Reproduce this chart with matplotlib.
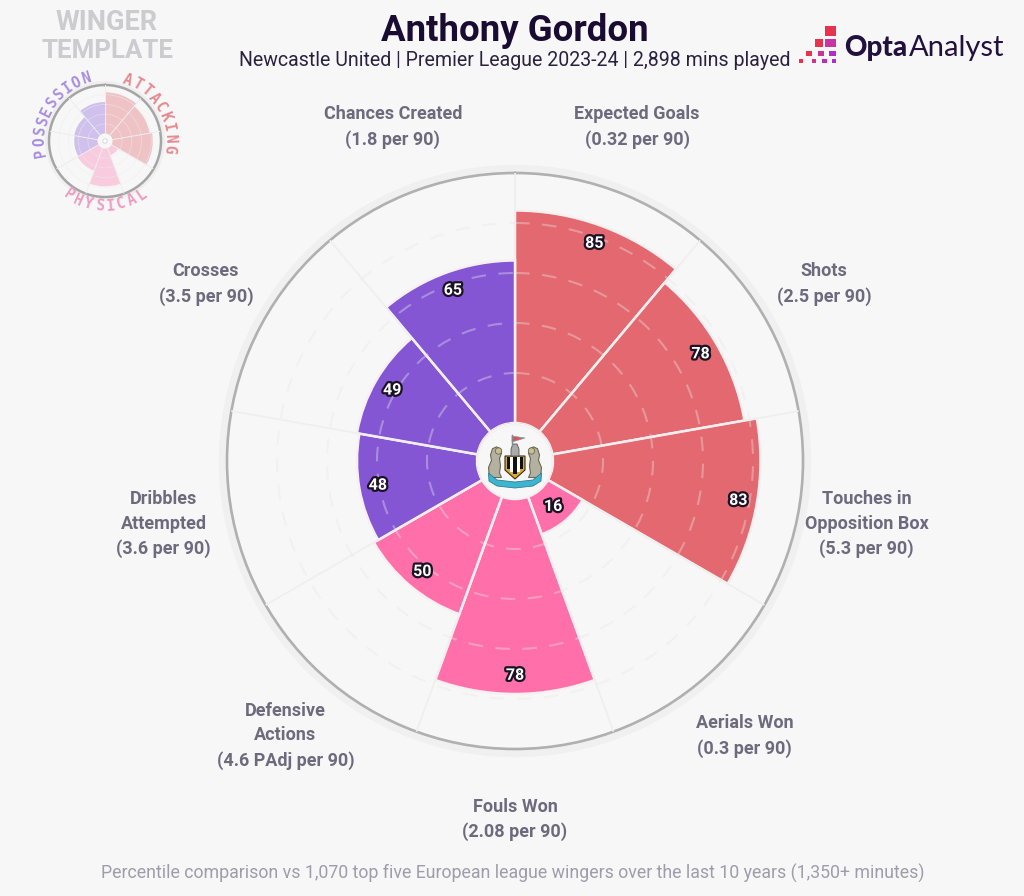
import numpy as np
import matplotlib
matplotlib.use("Agg")
import matplotlib.pyplot as plt
import matplotlib.patheffects as pe
from matplotlib.patches import Circle, Rectangle, Polygon

# data
metrics = ["Expected Goals\n(0.32 per 90)", "Shots\n(2.5 per 90)", "Touches in\nOpposition Box\n(5.3 per 90)",
           "Aerials Won\n(0.3 per 90)", "Fouls Won\n(2.08 per 90)", "Defensive\nActions\n(4.6 PAdj per 90)",
           "Dribbles\nAttempted\n(3.6 per 90)", "Crosses\n(3.5 per 90)", "Chances Created\n(1.8 per 90)"]
percentiles = [85, 78, 83, 16, 78, 50, 48, 49, 65]
groups = ["attacking", "attacking", "attacking", "physical", "physical", "physical",
          "possession", "possession", "possession"]
group_colors = {"attacking": "#E4686F", "physical": "#FF70AB", "possession": "#8456D4"}
mini_colors = {"attacking": "#EFC3C6", "physical": "#F9CBDF", "possession": "#CFC0EC"}
rings = [20, 40, 60, 80]

BG = "#F7F7F7"
FONT = "Roboto"
plt.rcParams["font.family"] = [FONT, "DejaVu Sans"]
W, H = 1024, 896
fig = plt.figure(figsize=(W / 100, H / 100), dpi=100, facecolor=BG)


def pixel_axes(z):
    a = fig.add_axes([0, 0, 1, 1], zorder=z)
    a.set_xlim(0, W)
    a.set_ylim(H, 0)
    a.axis("off")
    a.patch.set_alpha(0)
    return a


back = pixel_axes(0)
front = pixel_axes(5)


def polar_axes(cx, cy, r):
    a = fig.add_axes([(cx - r) / W, (H - cy - r) / H, 2 * r / W, 2 * r / H],
                     projection="polar", zorder=2)
    a.set_theta_zero_location("N")
    a.set_theta_direction(-1)
    a.set_ylim(0, 100)
    a.set_rorigin(-15.2)
    a.patch.set_alpha(0)
    a.set_xticks(np.deg2rad(np.arange(0, 360, 40)))
    a.set_yticks(rings)
    a.set_xticklabels([])
    a.set_yticklabels([])
    a.tick_params(length=0)
    a.spines["inner"].set_linewidth(0)
    a.spines["inner"].set_edgecolor("none")
    return a


theta = np.deg2rad(np.arange(len(percentiles)) * 40 + 20)
width = np.deg2rad(40)

# main chart
CX, CY, R = 515, 461, 288
back.add_patch(Circle((CX, CY), R + 4, fc="none", ec="#F0F0F0", lw=6))
ax = polar_axes(CX, CY, R)
ax.set_axisbelow(False)
ax.xaxis.grid(True, color="#EFEFEF", lw=1.3, zorder=1)
ax.yaxis.grid(True, color="#E8E8E8", lw=1.5, ls=(0, (7, 6)), alpha=0.38)
ax.bar(theta, percentiles, width=width, bottom=0,
       color=[group_colors[g] for g in groups], edgecolor="#F7F0F1", lw=1.8, zorder=2)
ax.spines["polar"].set_color("#B0B0B0")
ax.spines["polar"].set_linewidth(1.9)
for t, v in zip(theta, percentiles):
    ax.text(t, v - 7.5, str(v), ha="center", va="center", color="white", fontsize=11.5,
            fontweight="bold", zorder=6,
            path_effects=[pe.withStroke(linewidth=3.2, foreground="#1B1226")])
for t, m in zip(theta, metrics):
    ax.annotate(m, xy=(t, 127.6), xytext=(0, -1), textcoords="offset points", ha="center", va="center",
                color="#6E6A7E", fontsize=13, fontweight="bold", linespacing=1.46, annotation_clip=False)

# centre disc and crest
front.add_patch(Circle((CX, CY + 1), 37, fc=BG, ec="#F2F2F2", lw=1))
lion_l = np.array([[-10, 25], [-11, 14], [-8, 6], [-9, 0], [-7, -7], [-3, -9], [1, -7], [2, -2],
                   [0, 4], [1, 12], [0, 20], [2, 25]])
for sgn, xc in [(1, 499.5), (-1, 530.5)]:
    pts = np.c_[xc + sgn * lion_l[:, 0], 455 + lion_l[:, 1] * 0.9]
    front.add_patch(Polygon(pts, fc="#B5B1A0", ec="#6B6752", lw=0.8))
    front.add_patch(Circle((xc - sgn * 1, 451), 3.2, fc="#C9BE92", ec="#6B6752", lw=0.6))
front.add_patch(Polygon([[505, 456], [525, 456], [525, 470], [515, 479], [505, 470]],
                        fc="#D7A93A", ec="#3A2E12", lw=0.8))
for i in range(5):
    front.add_patch(Rectangle((507 + i * 3.2, 457.5), 3.2, 17 - abs(i - 2) * 2.5,
                              fc="#111111" if i % 2 == 0 else "#FFFFFF", ec="none"))
front.add_patch(Polygon([[511, 456], [511, 449], [513, 444], [517, 444], [519, 449], [519, 456]],
                        fc="#ABABAB", ec="#555555", lw=0.6))
front.plot([512, 512], [435, 446], color="#7F8B92", lw=1)
front.add_patch(Polygon([[512, 436], [525, 438], [512, 442]], fc="#D9574E", ec="#7A9BB0", lw=0.5))
front.add_patch(Polygon([[488.5, 473], [497, 480], [515, 482], [533, 480], [541.5, 473], [541, 481],
                         [533, 486], [515, 488], [497, 486], [489, 481]], fc="#3EB4CE", ec="#2A7F95", lw=0.6))

# mini template chart
MX, MY, MR = 105, 141, 56
back.add_patch(Circle((MX, MY), MR + 2, fc="none", ec="#EFEFEF", lw=3))
mini = polar_axes(MX, MY, MR)
mini.set_axisbelow(False)
mini.xaxis.grid(True, color="#EDEDED", lw=0.7)
mini.yaxis.grid(True, color="#EDEDED", lw=0.5, alpha=0.6)
mini.bar(theta, percentiles, width=width, bottom=0, color=[mini_colors[g] for g in groups],
         edgecolor="none", zorder=2)
mini.spines["polar"].set_color("#A5A5A5")
mini.spines["polar"].set_linewidth(1.8)
front.add_patch(Circle((MX, MY), 2.2, fc="white", ec="#CCCCCC", lw=0.5))


def arc_text(txt, cx, cy, r, start, end, color, inverted=False):
    for ch, ang in zip(txt, np.linspace(start, end, len(txt))):
        a = np.deg2rad(ang)
        x, y = cx + r * np.sin(a), cy - r * np.cos(a)
        rot = 180 - ang if inverted else -ang
        front.text(x, y, ch, ha="center", va="center", rotation=rot, rotation_mode="anchor",
                   color=color, fontsize=10.5, fontweight="bold", family="DejaVu Sans Mono")


arc_text("POSSESSION", MX, MY, 65, -100, -17, "#A98EE0")
arc_text("ATTACKING", MX, MY, 65, 20, 97, "#E58A90")
arc_text("PHYSICAL", MX, MY, 65, 214, 146, "#EE9CC2", inverted=True)

# titles
front.text(515, 31, "Anthony Gordon", ha="center", va="center", color="#1A0B33", fontsize=26.4, fontweight="bold")
front.text(515, 60.5, "Newcastle United | Premier League 2023-24 | 2,898 mins played", ha="center", va="center",
           color="#2A2140", fontsize=14.05)
front.text(107, 22, "WINGER", ha="center", va="center", color="#CBCBD0", fontsize=19.5, fontweight="bold")
front.text(108, 51, "TEMPLATE", ha="center", va="center", color="#CBCBD0", fontsize=18.6, fontweight="bold")
front.text(513, 873, "Percentile comparison vs 1,070 top five European league wingers over the last 10 years (1,350+ minutes)",
           ha="center", va="center", color="#9F9CAB", fontsize=12.74)

# logo
squares = [(825, 25.7, 10.7, 10, "#E8334F"), (814.5, 39, 8, 8.3, "#E8334F"), (825, 39, 10.7, 8.3, "#C934A5"),
           (806, 50.7, 6.3, 5.3, "#E8334F"), (818.3, 50.7, 6, 5.3, "#CB3590"), (829.3, 50.7, 6.3, 5.3, "#AE2FCB"),
           (799, 59, 4.3, 3.7, "#E8334F"), (811.7, 59, 4.3, 3.7, "#CB3590"), (822.3, 59, 4.3, 3.7, "#B530B5"),
           (831.7, 59, 4, 3.7, "#AE2FCB")]
for x, y, w, h, c in squares:
    front.add_patch(Rectangle((x, y), w, h, fc=c, ec="none"))
front.text(844, 56, "Opta", ha="left", va="baseline", color="#22103F", fontsize=20, fontweight="black", family="Lato")
front.text(909, 56, "Analyst", ha="left", va="baseline", color="#22103F", fontsize=21, family="Lato")

fig.savefig("out.png", dpi=100, facecolor=BG)
